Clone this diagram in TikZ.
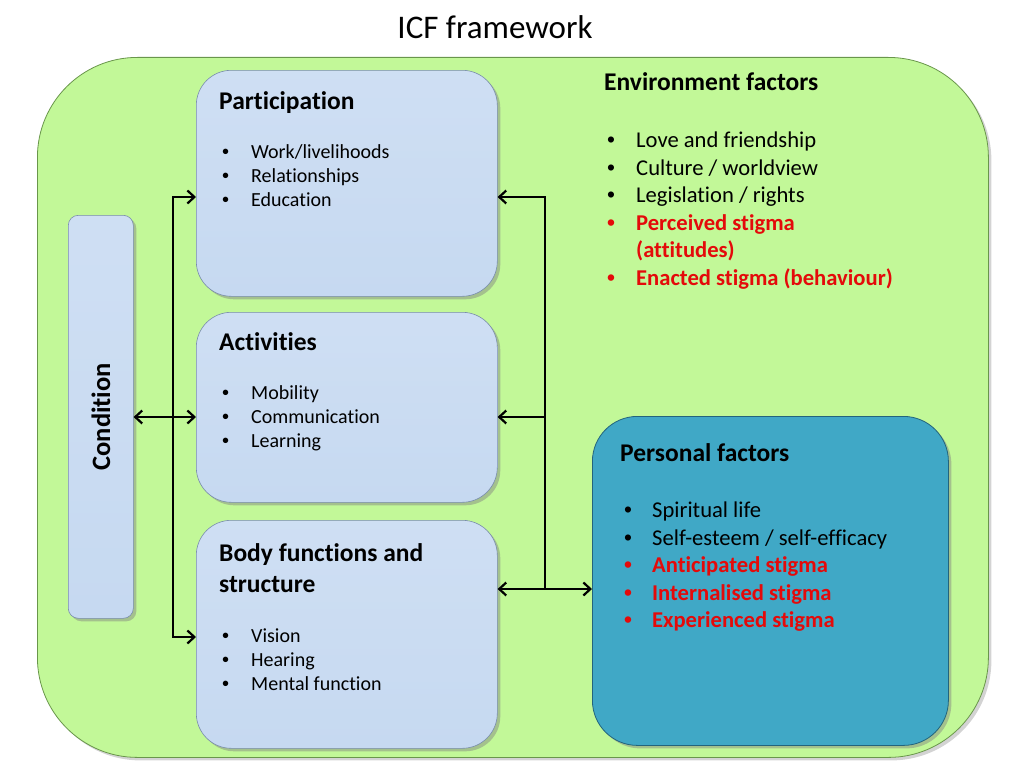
\documentclass[tikz,border=0pt]{standalone}
\usepackage{fontspec}
\setmainfont{Carlito}[Ligatures=NoCommon]
\newfontfamily\bulfont{Liberation Sans}
\usepackage{tikz}
\usetikzlibrary{arrows.meta,shadows}

\definecolor{framegreen}{RGB}{194,248,152}
\definecolor{frameedge}{RGB}{105,150,75}
\definecolor{boxblue}{RGB}{198,217,241}
\definecolor{boxblueedge}{RGB}{120,140,170}
\definecolor{persteal}{RGB}{64,168,198}
\definecolor{perstealedge}{RGB}{35,100,125}
\definecolor{stigred}{RGB}{228,10,10}

\newcommand{\bul}[1]{\makebox[#1][l]{\bulfont •}}

\begin{document}
\begin{tikzpicture}[x=1pt, y=-1pt,
  >={Straight Barb[length=7pt,width=13pt]},
  frame/.style={draw=frameedge, line width=0.8pt, fill=framegreen, rounded corners=100pt,
    anchor=north west, inner sep=0pt,
    drop shadow={shadow xshift=3pt, shadow yshift=-3pt, opacity=0.35}},
  bluebox/.style={draw=boxblueedge, line width=0.6pt, top color=boxblue!85!white,
    bottom color=boxblue, rounded corners=35pt, anchor=north west, inner sep=0pt,
    minimum width=301pt,
    drop shadow={shadow xshift=3pt, shadow yshift=-3pt, opacity=0.45}},
  tealbox/.style={draw=perstealedge, line width=0.8pt, fill=persteal, rounded corners=45pt,
    anchor=north west, inner sep=0pt,
    drop shadow={shadow xshift=3pt, shadow yshift=-3pt, opacity=0.45}},
  head/.style={anchor=base west, inner sep=0pt, font=\fontsize{25.5}{30}\selectfont\bfseries},
  item/.style={anchor=base west, inner sep=0pt, font=\fontsize{22.6}{27}\selectfont},
  smallitem/.style={anchor=base west, inner sep=0pt, font=\fontsize{20}{24}\selectfont},
  reditem/.style={item, text=stigred, font=\fontsize{22.6}{27}\selectfont\bfseries},
  link/.style={line width=2.2pt}]

  \useasboundingbox (0,0) rectangle (1024,768);

  % title and background frame
  \node[anchor=base, inner sep=0pt, font=\fontsize{33}{38}\selectfont] (title) at (495,38) {ICF framework};
  \node[frame, minimum width=951pt, minimum height=700pt] (icf) at (37,57) {};

  % boxes
  \node[bluebox, minimum height=226pt] (part) at (196,70) {};
  \node[bluebox, minimum height=190pt] (act) at (196,312) {};
  \node[bluebox, minimum height=228pt] (body) at (196,520) {};
  \node[bluebox, rounded corners=10pt, minimum width=65pt, minimum height=403pt] (cond) at (68,215) {};
  \node[tealbox, minimum width=356pt, minimum height=329pt] (pers) at (592,416) {};

  \node[rotate=90, inner sep=0pt, font=\fontsize{26.5}{30}\selectfont\bfseries] (condtxt) at (cond.center) {Condition};

  % participation
  \node[head] (parthead) at (219,109) {Participation};
  \node[smallitem] (part1) at (222,158) {\bul{29pt}Work/livelihoods};
  \node[smallitem] (part2) at (222,182) {\bul{29pt}Relationships};
  \node[smallitem] (part3) at (222,206) {\bul{29pt}Education};

  % activities
  \node[head] (acthead) at (219,350) {Activities};
  \node[smallitem] (act1) at (222,399) {\bul{29pt}Mobility};
  \node[smallitem] (act2) at (222,423) {\bul{29pt}Communication};
  \node[smallitem] (act3) at (222,447) {\bul{29pt}Learning};

  % body functions
  \node[head] (bodyhead) at (219,561) {Body functions and};
  \node[head] (bodyhead2) at (219,592) {structure};
  \node[smallitem] (body1) at (222,642) {\bul{29pt}Vision};
  \node[smallitem] (body2) at (222,666) {\bul{29pt}Hearing};
  \node[smallitem] (body3) at (222,690) {\bul{29pt}Mental function};

  % environment factors
  \node[head] (envhead) at (604,90) {Environment factors};
  \node[item] (env1) at (607,147) {\bul{29pt}Love and friendship};
  \node[item] (env2) at (607,175) {\bul{29pt}Culture / worldview};
  \node[item] (env3) at (607,202) {\bul{29pt}Legislation / rights};
  \node[reditem] (env4) at (607,230) {\bul{29pt}Perceived stigma};
  \node[reditem] (env4b) at (636,257) {(attitudes)};
  \node[reditem] (env5) at (607,285) {\bul{29pt}Enacted stigma (behaviour)};

  % personal factors
  \node[head] (pershead) at (620,461) {Personal factors};
  \node[item] (pers1) at (624,517) {\bul{28pt}Spiritual life};
  \node[item] (pers2) at (624,545) {\bul{28pt}Self-esteem / self-efficacy};
  \node[reditem] (pers3) at (624,572) {\bul{28pt}Anticipated stigma};
  \node[reditem] (pers4) at (624,600) {\bul{28pt}Internalised stigma};
  \node[reditem] (pers5) at (624,627) {\bul{28pt}Experienced stigma};

  % connectors
  \coordinate (lt) at (173,197);
  \coordinate (lm) at (173,417);
  \coordinate (lb) at (173,637);
  \coordinate (rt) at (545,197);
  \coordinate (rm) at (545,417);
  \coordinate (rb) at (545,589);

  \draw[link, <->] (part.west |- lt) -- (lt) -- (lb) -- (body.west |- lb);
  \draw[link, <->] (cond.east |- lm) -- (act.west |- lm);
  \draw[link, ->] (rb) -- (rt) -- (part.east |- rt);
  \draw[link, ->] (rm) -- (act.east |- rm);
  \draw[link, <->] (body.east |- rb) -- (pers.west |- rb);
\end{tikzpicture}
\end{document}
